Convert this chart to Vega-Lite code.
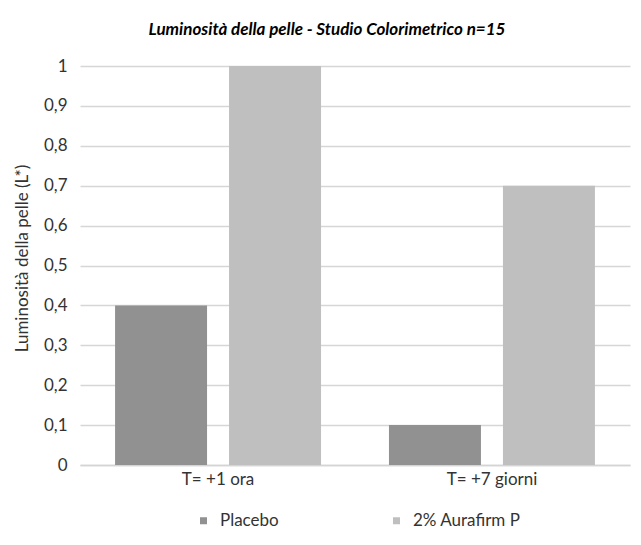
{
  "$schema": "https://vega.github.io/schema/vega-lite/v6.json",
  "width": 550,
  "height": 399,
  "autosize": "none",
  "padding": {"left": 80, "top": 66, "right": 11, "bottom": 80},
  "background": "white",
  "title": {
    "text": "Luminosità della pelle - Studio Colorimetrico n=15",
    "font": "Lato",
    "fontSize": 17,
    "fontStyle": "italic",
    "fontWeight": "bold",
    "color": "#000000",
    "anchor": "middle",
    "offset": 18,
    "dx": -28
  },
  "data": {
    "values": [
      {"tempo": "T= +1 ora", "gruppo": "Placebo", "valore": 0.4},
      {"tempo": "T= +1 ora", "gruppo": "2% Aurafirm P", "valore": 1.0},
      {"tempo": "T= +7 giorni", "gruppo": "Placebo", "valore": 0.1},
      {"tempo": "T= +7 giorni", "gruppo": "2% Aurafirm P", "valore": 0.7}
    ]
  },
  "mark": {"type": "bar"},
  "encoding": {
    "x": {
      "field": "tempo",
      "type": "nominal",
      "sort": ["T= +1 ora", "T= +7 giorni"],
      "scale": {"paddingInner": 0.248, "paddingOuter": 0.128},
      "axis": {
        "title": null,
        "labelAngle": 0,
        "labelFont": "Lato",
        "labelFontSize": 17,
        "labelColor": "#333333",
        "labelPadding": 6,
        "ticks": false,
        "domainColor": "#d4d4d4",
        "domainWidth": 1.5,
        "grid": false
      }
    },
    "xOffset": {
      "field": "gruppo",
      "type": "nominal",
      "sort": ["Placebo", "2% Aurafirm P"],
      "scale": {"paddingInner": 0.193, "paddingOuter": 0}
    },
    "y": {
      "field": "valore",
      "type": "quantitative",
      "scale": {"domain": [0, 1], "nice": false},
      "axis": {
        "title": "Luminosità della pelle (L*)",
        "titleFont": "Lato",
        "titleFontSize": 17,
        "titleFontWeight": "normal",
        "titleColor": "#333333",
        "titleBaseline": "alphabetic",
        "titleX": -53,
        "titleY": 192,
        "values": [0, 0.1, 0.2, 0.3, 0.4, 0.5, 0.6, 0.7, 0.8, 0.9, 1],
        "labelExpr": "replace(format(datum.value, '.1~f'), '.', ',')",
        "labelFont": "Lato",
        "labelFontSize": 17,
        "labelColor": "#333333",
        "labelPadding": 13,
        "ticks": false,
        "domain": false,
        "grid": true,
        "gridColor": "#d6d6d6",
        "gridWidth": 1.5
      }
    },
    "color": {
      "field": "gruppo",
      "type": "nominal",
      "sort": ["Placebo", "2% Aurafirm P"],
      "scale": {"domain": ["Placebo", "2% Aurafirm P"], "range": ["#919191", "#bfbfbf"]},
      "legend": {
        "title": null,
        "orient": "none",
        "direction": "horizontal",
        "legendX": 115,
        "legendY": 446,
        "symbolType": "square",
        "symbolSize": 49,
        "symbolStrokeWidth": 0,
        "symbolOpacity": 1,
        "labelFont": "Lato",
        "labelFontSize": 17,
        "labelColor": "#333333",
        "labelOffset": 8,
        "columnPadding": 109
      }
    }
  },
  "config": {
    "view": {"stroke": null}
  }
}
